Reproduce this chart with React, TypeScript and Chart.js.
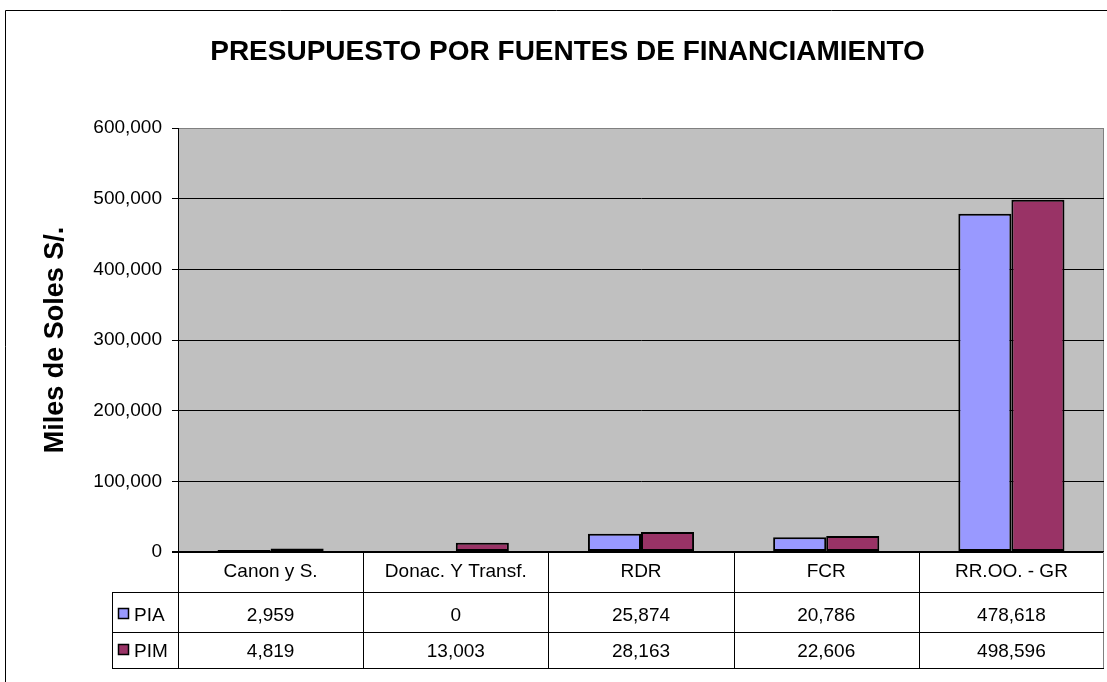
import React, { useEffect, useRef } from "react";
import { Chart, registerables } from "chart.js";

Chart.register(...registerables);

const TITLE = "PRESUPUESTO POR FUENTES DE FINANCIAMIENTO";
const Y_TITLE = "Miles de Soles S/.";
const categories = ["Canon y S.", "Donac. Y Transf.", "RDR", "FCR", "RR.OO. - GR"];
const seriesNames = ["PIA", "PIM"];
const piaValues = [2959, 0, 25874, 20786, 478618];
const pimValues = [4819, 13003, 28163, 22606, 498596];
const seriesColors = ["#9999FF", "#993366"];
const Y_MAX = 600000;
const Y_STEP = 100000;

const FONT = '"Liberation Sans", Arial, sans-serif';
const fmt = (v: number) => v.toLocaleString("en-US");

const framePlugin = {
  id: "framePlugin",
  beforeDraw(chart: any) {
    const { ctx, chartArea } = chart;
    ctx.save();
    ctx.fillStyle = "#ffffff";
    ctx.fillRect(0, 0, chart.width, chart.height);
    // outer frame
    ctx.strokeStyle = "#000";
    ctx.lineWidth = 1;
    ctx.beginPath();
    ctx.moveTo(5.5, chart.height);
    ctx.lineTo(5.5, 10.5);
    ctx.lineTo(chart.width, 10.5);
    ctx.stroke();
    // plot background
    ctx.fillStyle = "#C0C0C0";
    ctx.fillRect(chartArea.left, chartArea.top, chartArea.right - chartArea.left, chartArea.bottom - chartArea.top);
    ctx.strokeStyle = "#808080";
    ctx.beginPath();
    ctx.moveTo(chartArea.left, chartArea.top + 0.5);
    ctx.lineTo(chartArea.right - 0.5, chartArea.top + 0.5);
    ctx.lineTo(chartArea.right - 0.5, chartArea.bottom);
    ctx.stroke();
    ctx.restore();
  },
};

const tablePlugin = {
  id: "tablePlugin",
  afterDraw(chart: any) {
    const { ctx, chartArea } = chart;
    const xs = chart.scales.x;
    const n = categories.length;
    const catW = (chartArea.right - chartArea.left) / n;
    const top = chartArea.bottom;
    const row1 = top + 40;
    const row2 = row1 + 40;
    const bottom = row2 + 36;
    const legendLeft = chartArea.left - 66;
    ctx.save();
    ctx.lineWidth = 1;
    ctx.strokeStyle = "#000";
    // vertical lines
    for (let i = 0; i < n; i++) {
      const xl = Math.round(xs.getPixelForValue(i) - catW / 2) + 0.5;
      ctx.beginPath();
      ctx.moveTo(xl, top);
      ctx.lineTo(xl, bottom);
      ctx.stroke();
    }
    ctx.strokeStyle = "#808080";
    ctx.beginPath();
    ctx.moveTo(chartArea.right - 0.5, top);
    ctx.lineTo(chartArea.right - 0.5, bottom);
    ctx.stroke();
    ctx.strokeStyle = "#000";
    // legend column left
    ctx.beginPath();
    ctx.moveTo(legendLeft + 0.5, row1);
    ctx.lineTo(legendLeft + 0.5, bottom);
    ctx.stroke();
    // horizontal lines
    [row1, row2, bottom].forEach((y) => {
      ctx.beginPath();
      ctx.moveTo(legendLeft, y + 0.5);
      ctx.lineTo(chartArea.right, y + 0.5);
      ctx.stroke();
    });
    // texts
    ctx.fillStyle = "#000";
    ctx.font = `19px ${FONT}`;
    ctx.textAlign = "center";
    ctx.textBaseline = "alphabetic";
    const series = [piaValues, pimValues];
    for (let i = 0; i < n; i++) {
      const cx = xs.getPixelForValue(i);
      ctx.fillText(categories[i], cx, top + 25);
      ctx.fillText(fmt(series[0][i]), cx, row1 + 29);
      ctx.fillText(fmt(series[1][i]), cx, row2 + 25);
    }
    // legend keys
    const baselines = [row1 + 29, row2 + 25];
    seriesNames.forEach((name, s) => {
      const by = baselines[s];
      ctx.fillStyle = seriesColors[s];
      ctx.fillRect(legendLeft + 6.5, by - 12.5, 10, 10);
      ctx.strokeStyle = "#000";
      ctx.lineWidth = 1.5;
      ctx.strokeRect(legendLeft + 6.5, by - 12.5, 10, 10);
      ctx.fillStyle = "#000";
      ctx.textAlign = "left";
      ctx.fillText(name, legendLeft + 22, by);
    });
    ctx.restore();
  },
};

export default function App() {
  const ref = useRef<HTMLCanvasElement>(null);
  useEffect(() => {
    if (!ref.current) return;
    const chart = new Chart(ref.current, {
      type: "bar",
      data: {
        labels: categories,
        datasets: [
          {
            label: seriesNames[0],
            data: piaValues,
            backgroundColor: seriesColors[0],
            borderColor: "#000",
            borderWidth: 2,
            borderSkipped: false,
            categoryPercentage: 0.573,
            barPercentage: 1,
          },
          {
            label: seriesNames[1],
            data: pimValues,
            backgroundColor: seriesColors[1],
            borderColor: "#000",
            borderWidth: 2,
            borderSkipped: false,
            categoryPercentage: 0.573,
            barPercentage: 1,
          },
        ],
      },
      options: {
        responsive: false,
        animation: false,
        devicePixelRatio: 1,
        layout: { padding: { left: 31, right: 3, top: 0, bottom: 130 } },
        plugins: {
          legend: { display: false },
          tooltip: { enabled: false },
          title: {
            display: true,
            text: TITLE,
            color: "#000",
            font: { family: FONT, size: 28, weight: "bold" },
            padding: { top: 35, bottom: 59.4 },
          },
        },
        scales: {
          x: { display: false },
          y: {
            min: 0,
            max: Y_MAX,
            afterFit: (scale: any) => {
              scale.width = 147;
            },
            ticks: {
              stepSize: Y_STEP,
              color: "#000",
              padding: 10,
              font: { family: FONT, size: 19 },
              callback: (v: any) => fmt(Number(v)),
            },
            grid: {
              color: (c: any) => (c.tick && c.tick.value === Y_MAX ? "#808080" : "#000"),
              lineWidth: (c: any) => (c.tick && c.tick.value === 0 ? 2 : 1),
              tickColor: "#000",
              tickLength: 6,
            },
            border: { color: "#000", width: 1 },
            title: {
              display: true,
              text: Y_TITLE,
              color: "#000",
              font: { family: FONT, size: 27, weight: "bold" },
              padding: { top: 8, bottom: 0 },
            },
          },
        },
      },
      plugins: [framePlugin, tablePlugin],
    });
    return () => chart.destroy();
  }, []);
  return (
    <div style={{ position: "fixed", left: 0, top: 0, width: 1107, height: 682, background: "#fff" }}>
      <canvas ref={ref} width={1107} height={682} style={{ display: "block" }} />
    </div>
  );
}
